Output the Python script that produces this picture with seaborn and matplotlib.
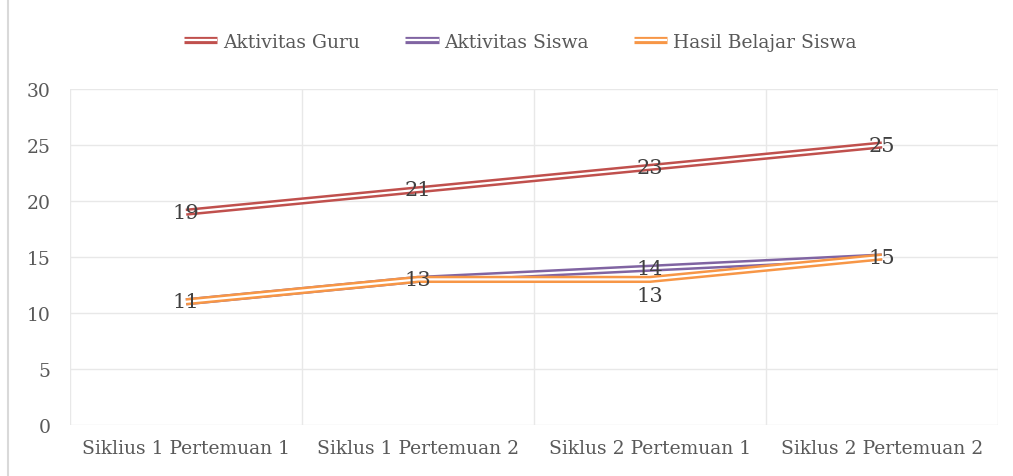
import matplotlib
matplotlib.use("Agg")
import matplotlib.pyplot as plt
import matplotlib.patheffects as pe
from matplotlib.lines import Line2D
import seaborn as sns
import pandas as pd

categories = ["Siklius 1 Pertemuan 1", "Siklus 1 Pertemuan 2", "Siklus 2 Pertemuan 1", "Siklus 2 Pertemuan 2"]
series_names = ["Aktivitas Guru", "Aktivitas Siswa", "Hasil Belajar Siswa"]
guru = [19, 21, 23, 25]
siswa = [11, 13, 14, 15]
hasil = [11, 13, 13, 15]
colors = ["#C0504D", "#8064A2", "#F79646"]

rows = []
for name, vals in zip(series_names, [guru, siswa, hasil]):
    for c, v in zip(categories, vals):
        rows.append({"Kategori": c, "Nilai": v, "Seri": name})
df = pd.DataFrame(rows)

sns.set_style("white")
plt.rcParams['font.family'] = ['DejaVu Serif']

fig = plt.figure(figsize=(10.13, 4.77), dpi=100)
ax = fig.add_axes([70/1013, 51/477, 928/1013, 336/477])

sns.lineplot(data=df, x="Kategori", y="Nilai", hue="Seri", palette=colors,
             sort=False, ax=ax, legend=False, zorder=3)

def effects(col):
    return [pe.Stroke(linewidth=5.2, foreground=col, capstyle="butt"), pe.Normal()]

handles = []
for line, col in zip(ax.get_lines(), colors):
    line.set_color("white")
    line.set_linewidth(1.6)
    line.set_path_effects(effects(col))
for name, col in zip(series_names, colors):
    h = Line2D([], [], color="white", lw=1.6, solid_capstyle="butt", path_effects=effects(col))
    handles.append(h)

ax.set_xlim(-0.5, 3.5)
ax.set_ylim(0, 30)
ax.set_yticks(range(0, 31, 5))
ax.set_xticks(range(4))
ax.set_xticklabels(categories)
ax.set_xticks([-0.5, 0.5, 1.5, 2.5, 3.5], minor=True)
ax.grid(False)
ax.grid(axis="y", which="major", color="#E8E8E8", lw=1)
ax.grid(axis="x", which="minor", color="#E8E8E8", lw=1)
ax.set_axisbelow(True)
for s in ax.spines.values():
    s.set_visible(False)
ax.tick_params(axis="both", which="both", length=0, labelsize=13.5, labelcolor="#595959")
ax.tick_params(axis="y", pad=14)
ax.tick_params(axis="x", pad=10)
ax.set_xlabel("")
ax.set_ylabel("")

# data labels
lab = dict(ha="center", va="center", fontsize=15, color="#404040", zorder=5)
for i, v in enumerate(guru):
    ax.text(i, v, str(v), **lab)
for i, v in enumerate(siswa):
    if i in (0, 1, 3):
        continue
    ax.text(i, v, str(v), **lab)
for i, v in enumerate(hasil):
    y = v - 1.4 if i == 2 else v
    ax.text(i, y, str(v), **lab)

leg = fig.legend(handles, series_names, loc="center", bbox_to_anchor=(520/1013, 1 - 43/477),
                 ncol=3, frameon=False, fontsize=13.5, handlelength=1.8, columnspacing=2.4,
                 handletextpad=0.3)
for t in leg.get_texts():
    t.set_color("#595959")

fig.add_artist(Line2D([8/1013, 8/1013], [0, 1], transform=fig.transFigure, color="#D9D9D9", lw=1.5))

fig.savefig("out.png", dpi=100)
